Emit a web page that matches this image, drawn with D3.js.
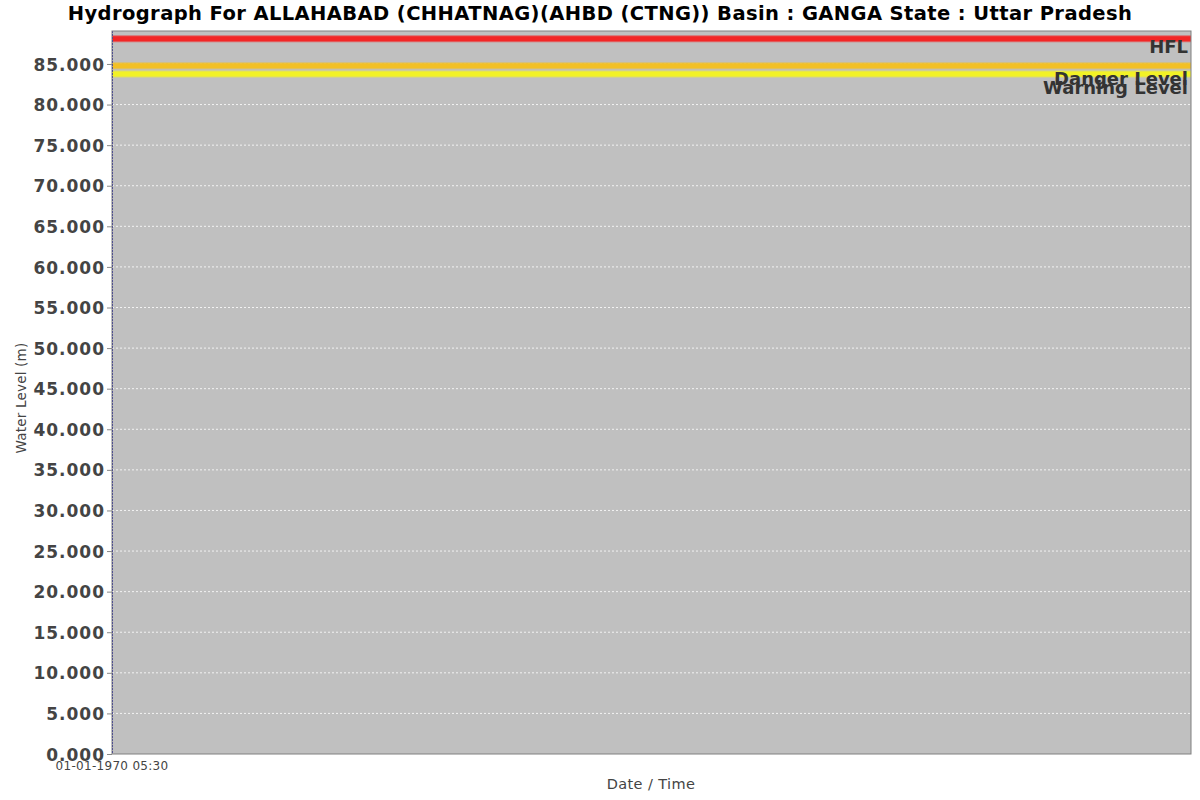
<!DOCTYPE html>
<html><head><meta charset="utf-8">
<script src="https://cdn.jsdelivr.net/npm/d3@7"></script>
<style>body{margin:0;background:#fff}svg{display:block}text{font-family:"DejaVu Sans",sans-serif}</style>
</head><body>
<script>
const titleText = "Hydrograph For ALLAHABAD (CHHATNAG)(AHBD (CTNG)) Basin : GANGA State : Uttar Pradesh";
const yTicks = [0,5,10,15,20,25,30,35,40,45,50,55,60,65,70,75,80,85];
const levelNames = ["HFL","Danger Level","Warning Level"];
const levelValues = [88.12, 84.78, 83.76];
const levelColors = ["#f22626","#f2c026","#f2f226"];
const xTickLabels = ["01-01-1970 05:30"];
const xTickValues = [0];

const W=1200,H=800;
const m={l:112,r:1191,t:31,b:754};
const svg=d3.select("body").append("svg").attr("width",W).attr("height",H);
const y=d3.scaleLinear().domain([0,89.06]).range([m.b,m.t]);
const x=d3.scaleLinear().domain([0,1]).range([m.l,m.r]);

svg.append("rect").attr("x",m.l).attr("y",m.t).attr("width",m.r-m.l).attr("height",m.b-m.t).attr("fill","#c0c0c0");
// grid
svg.append("g").selectAll("line").data(yTicks.slice(1)).join("line")
  .attr("x1",m.l).attr("x2",m.r).attr("y1",d=>y(d)).attr("y2",d=>y(d))
  .attr("stroke","#ffffff").attr("stroke-width",0.8).attr("stroke-dasharray","2,2");
// level lines
const lv=svg.append("g");
levelValues.forEach((v,i)=>{
  lv.append("line").attr("x1",m.l).attr("x2",m.r).attr("y1",y(v)).attr("y2",y(v))
    .attr("stroke",levelColors[i]).attr("stroke-width",7).attr("stroke-opacity",0.55);
  lv.append("line").attr("x1",m.l).attr("x2",m.r).attr("y1",y(v)).attr("y2",y(v))
    .attr("stroke",levelColors[i]).attr("stroke-width",5);
});
const labelOffsets=[14,19.5,19.5];
levelValues.forEach((v,i)=>{
  lv.append("text").attr("x",m.r-3).attr("y",y(v)+labelOffsets[i]).attr("text-anchor","end")
    .attr("font-size",18).attr("font-weight","bold").attr("fill","#333").text(levelNames[i]);
});
// data series vertical at left edge (dotted blue)
svg.append("line").attr("x1",m.l+0.5).attr("x2",m.l+0.5).attr("y1",m.t).attr("y2",m.b)
  .attr("stroke","#2020a0").attr("stroke-width",1).attr("stroke-dasharray","2,1");
// border
svg.append("rect").attr("x",m.l).attr("y",m.t).attr("width",m.r-m.l).attr("height",m.b-m.t)
  .attr("fill","none").attr("stroke","#808080").attr("stroke-width",1);

// y axis
const ya=svg.append("g").attr("transform",`translate(${m.l},0)`)
  .call(d3.axisLeft(y).tickValues(yTicks).tickFormat(d3.format(".3f")).tickSize(5).tickPadding(2));
ya.select(".domain").remove();
ya.selectAll("line").attr("stroke","#888");
ya.selectAll("text").attr("font-size",17).attr("font-weight","bold").attr("fill","#444")
  .attr("font-family","DejaVu Sans").attr("letter-spacing","1px").attr("dy","0.36em");

// x tick
svg.append("g").selectAll("text").data(xTickValues).join("text")
  .attr("x",d=>x(d)).attr("y",769.5).attr("text-anchor","middle")
  .attr("font-size",12).attr("letter-spacing","0.3px").attr("fill","#444").text((d,i)=>xTickLabels[i]);

svg.append("text").attr("x",651).attr("y",789).attr("text-anchor","middle")
  .attr("font-size",14.5).attr("letter-spacing","0.4px").attr("fill","#444").text("Date / Time");
svg.append("text").attr("transform","translate(26,398) rotate(-90)").attr("text-anchor","middle")
  .attr("font-size",13.5).attr("letter-spacing","0.2px").attr("fill","#444").text("Water Level (m)");
svg.append("text").attr("x",600).attr("y",20).attr("text-anchor","middle")
  .attr("font-size",19.5).attr("letter-spacing","0.4px").attr("font-weight","bold").attr("fill","#000").text(titleText);
</script>
</body></html>
